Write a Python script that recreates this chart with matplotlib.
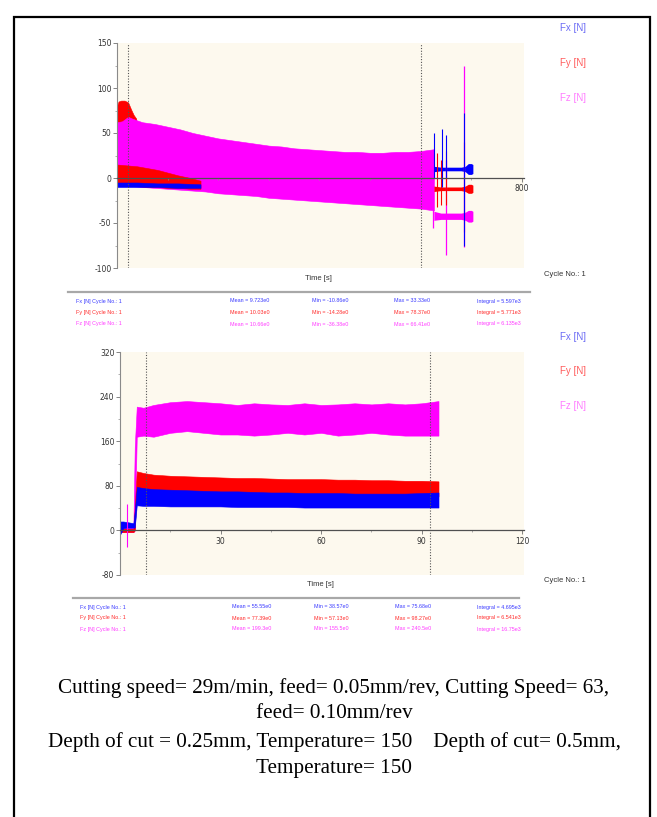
import matplotlib
matplotlib.use("Agg")
import matplotlib.pyplot as plt
from matplotlib.patches import Rectangle

plt.rcParams["axes.unicode_minus"] = False

W, H = 657, 817

# ---------------- top chart data (time in s, force in N) ----------------
top_t = [0, 10, 22, 30, 50, 75, 100, 125, 150, 175, 200, 225, 250, 275, 300,
         325, 350, 375, 400, 425, 450, 475, 500, 525, 550, 575, 600, 626]
top_fz_hi = [62, 63, 68, 66, 62, 60, 57, 54, 50, 47, 44, 42, 40, 38, 36,
             35, 33, 32, 31, 30, 29, 29, 28, 28, 29, 29, 30, 32]
top_fz_lo = [-5, -7, -8, -9, -10, -11, -12, -13, -14, -15, -17, -18, -19, -20, -22,
             -23, -24, -25, -26, -27, -28, -29, -30, -31, -32, -33, -34, -36]

# Fy start-up peak above the Fz band, and Fy near zero
fy_peak_t = [0, 3, 8, 15, 22, 28, 33, 38]
fy_peak_hi = [80, 85, 86, 86, 84, 76, 70, 66]
fy_base_t = [0, 20, 40, 60, 80, 100, 120, 145, 165]
fy_base_hi = [15, 14, 13, 11, 9, 6, 3, 0, -3]
fy_base_lo = [-8, -8, -9, -10, -10, -11, -11, -12, -12]
fx_base_t = [0, 40, 80, 120, 165]
fx_base_hi = [-5, -5, -6, -6, -7]
fx_base_lo = [-10, -10, -10, -11, -11]

# after the cut
tail_t = [626, 640, 660, 680, 688, 694, 700, 703]
tail_fx_hi = [13, 12, 12, 12, 13, 16, 16, 15]
tail_fx_lo = [7, 8, 8, 8, 7, 4, 4, 5]
tail_fy_hi = [-9, -10, -10, -10, -9, -7, -7, -8]
tail_fy_lo = [-15, -14, -14, -14, -15, -17, -17, -16]
tail_fz_hi = [-37, -39, -39, -39, -38, -36, -36, -37]
tail_fz_lo = [-47, -46, -46, -46, -47, -49, -49, -48]

spike_fz_t = [624, 650, 686]
spike_fz_lo = [-56, -86, -77]
spike_fz_hi = [30, 20, 125]
spike_fy_t = [632, 640, 650, 686]
spike_fy_lo = [-32, -30, -30, -60]
spike_fy_hi = [28, 20, 30, 40]
spike_fx_t = [626, 642, 650, 686]
spike_fx_lo = [0, -10, 0, -75]
spike_fx_hi = [50, 55, 48, 72]

top_marks = [22, 600]

# ---------------- bottom chart data ----------------
bot_t = [0, 1, 2, 3, 4, 4.4, 5, 7, 10, 15, 20, 25, 30, 35, 40, 45, 50,
         55, 60, 65, 70, 75, 80, 85, 90, 95]
bot_fz_hi = [10, 10, 12, 10, 10, 150, 222, 220, 225, 230, 232, 230, 228, 225, 228,
             226, 225, 228, 225, 226, 228, 226, 228, 226, 228, 232]
bot_fz_lo = [-3, -3, -3, -3, -3, 0, 168, 170, 168, 175, 178, 175, 172, 172, 170,
             172, 175, 172, 175, 170, 172, 175, 172, 170, 170, 170]
bot_fy_hi = [3, 3, 3, 3, 3, 40, 106, 103, 100, 98, 97, 96, 95, 94, 94,
             93, 92, 92, 92, 91, 91, 90, 90, 89, 89, 88]
bot_fy_lo = [-3, -3, -3, -3, -3, 0, 74, 74, 72, 70, 69, 68, 68, 67, 66,
             65, 65, 64, 64, 63, 63, 63, 62, 62, 62, 61]
bot_fx_hi = [16, 16, 15, 14, 13, 35, 78, 76, 74, 73, 72, 71, 70, 70, 69,
             68, 68, 67, 67, 67, 66, 66, 66, 66, 67, 68]
bot_fx_lo = [-8, 4, 5, 5, 5, 5, 45, 44, 44, 43, 43, 43, 43, 42, 42,
             42, 42, 41, 41, 41, 41, 41, 41, 41, 41, 41]
bot_spike_t = [2]
bot_spike_lo = [-29]
bot_spike_hi = [47]
bot_marks = [7.8, 92.5]

series_names = ["Fx [N]", "Fy [N]", "Fz [N]"]
stats_top = [["Mean = 9.723e0", "Min = -10.86e0", "Max = 33.33e0", "Integral = 5.597e3"],
             ["Mean = 10.03e0", "Min = -14.28e0", "Max = 78.37e0", "Integral = 5.771e3"],
             ["Mean = 10.66e0", "Min = -36.38e0", "Max = 66.41e0", "Integral = 6.135e3"]]
stats_bot = [["Mean = 55.55e0", "Min = 38.57e0", "Max = 75.68e0", "Integral = 4.695e3"],
             ["Mean = 77.39e0", "Min = 57.13e0", "Max = 98.27e0", "Integral = 6.541e3"],
             ["Mean = 199.3e0", "Min = 155.5e0", "Max = 240.5e0", "Integral = 16.75e3"]]

caption = ["Cutting speed= 29m/min, feed= 0.05mm/rev, Cutting Speed= 63,",
           "feed= 0.10mm/rev",
           "Depth of cut = 0.25mm, Temperature= 150    Depth of cut= 0.5mm,",
           "Temperature= 150"]

BLUE, RED, MAG = "#0000ff", "#ff0000", "#ff00ff"
LEG = ["#6b6bf5", "#ff5c5c", "#ff7cff"]
STAT = ["#3a3aff", "#ff2a2a", "#ff3cff"]
BG = "#fdf9ee"


def px_axes(fig, x0, y0, x1, y1):
    return fig.add_axes([x0 / W, 1 - y1 / H, (x1 - x0) / W, (y1 - y0) / H])


def ftext(fig, x, y, s, **kw):
    fig.text(x / W, 1 - y / H, s, **kw)


def style(ax):
    ax.set_facecolor(BG)
    for s in ["top", "right"]:
        ax.spines[s].set_visible(False)
    ax.spines["left"].set_color("#8a8a8a")
    ax.spines["bottom"].set_position(("data", 0))
    ax.spines["bottom"].set_color("#505050")
    ax.spines["bottom"].set_linewidth(0.9)
    ax.tick_params(axis="both", which="major", labelsize=5.5, labelcolor="#333333",
                   color="#707070", length=3, width=0.6, pad=1)
    ax.tick_params(axis="both", which="minor", color="#909090", length=1.5, width=0.5)
    ax.tick_params(axis="x", which="major", pad=1.5)


fig = plt.figure(figsize=(W / 100, H / 100), dpi=100)

# ---------- top chart ----------
ax = px_axes(fig, 117, 43, 524, 268)
style(ax)
ax.set_xlim(0, 804)
ax.set_ylim(-100, 150)
ax.set_yticks([-100, -50, 0, 50, 100, 150])
ax.set_yticks(range(-100, 151, 25), minor=True)
ax.set_xticks([800])
ax.set_xticks(range(100, 800, 100), minor=True)

ax.fill_between(fy_peak_t, 50, fy_peak_hi, color=RED, lw=0.4)
ax.fill_between(top_t, top_fz_lo, top_fz_hi, color=MAG, lw=0.4)
ax.fill_between(fy_base_t, fy_base_lo, fy_base_hi, color=RED, lw=0.4)
ax.fill_between(fx_base_t, fx_base_lo, fx_base_hi, color=BLUE, lw=0.4)
ax.vlines(spike_fz_t, spike_fz_lo, spike_fz_hi, color=MAG, lw=0.9)
ax.vlines(spike_fy_t, spike_fy_lo, spike_fy_hi, color=RED, lw=0.8)
ax.vlines(spike_fx_t, spike_fx_lo, spike_fx_hi, color=BLUE, lw=0.8)
ax.fill_between(tail_t, tail_fz_lo, tail_fz_hi, color=MAG, lw=0)
ax.fill_between(tail_t, tail_fy_lo, tail_fy_hi, color=RED, lw=0)
ax.fill_between(tail_t, tail_fx_lo, tail_fx_hi, color=BLUE, lw=0)
for m in top_marks:
    ax.axvline(m, color="#555555", lw=0.8, ls=(0, (1, 1.5)))

# ---------- bottom chart ----------
bx = px_axes(fig, 120, 352, 524, 575)
style(bx)
bx.set_xlim(0, 120.5)
bx.set_ylim(-80, 320)
bx.set_yticks([-80, 0, 80, 160, 240, 320])
bx.set_yticks(range(-80, 321, 40), minor=True)
bx.set_xticks([30, 60, 90, 120])
bx.set_xticks([15, 45, 75, 105], minor=True)

bx.fill_between(bot_t, bot_fz_lo, bot_fz_hi, color=MAG, lw=0.4)
bx.vlines(bot_spike_t, bot_spike_lo, bot_spike_hi, color=MAG, lw=0.8)
bx.fill_between(bot_t, bot_fy_lo, bot_fy_hi, color=RED, lw=0.4)
bx.fill_between(bot_t, bot_fx_lo, bot_fx_hi, color=BLUE, lw=0.4)
for m in bot_marks:
    bx.axvline(m, color="#555555", lw=0.8, ls=(0, (1, 1.5)))

# ---------- labels around the charts ----------
small = dict(fontsize=5.5, color="#333333", family="Liberation Sans", ha="center", va="center")
ftext(fig, 318, 279, "Time [s]", **small)
ftext(fig, 320, 584, "Time [s]", **small)
ftext(fig, 565, 275, "Cycle No.: 1", **small)
ftext(fig, 565, 581, "Cycle No.: 1", **small)

for i, name in enumerate(series_names):
    ftext(fig, 573, 28 + 35 * i, name, fontsize=7, color=LEG[i],
          family="Liberation Sans", ha="center", va="center")
    ftext(fig, 573, 337 + 34.5 * i, name, fontsize=7, color=LEG[i],
          family="Liberation Sans", ha="center", va="center")

# stats tables
fig.add_artist(plt.Line2D([68 / W, 530 / W], [1 - 292 / H, 1 - 292 / H], color="#a8a8a8", lw=1.6))
fig.add_artist(plt.Line2D([73 / W, 519 / W], [1 - 598 / H, 1 - 598 / H], color="#a8a8a8", lw=1.6))
tiny = dict(fontsize=3.9, family="Liberation Sans", va="center", ha="left")
for i, name in enumerate(series_names):
    ftext(fig, 76, 301 + 11.5 * i, name + " Cycle No.: 1", color=STAT[i], **tiny)
    for x, s in zip([230, 312, 394, 477], stats_top[i]):
        ftext(fig, x, 301 + 11.5 * i, s, color=STAT[i], **tiny)
    ftext(fig, 80, 607 + 11 * i, name + " Cycle No.: 1", color=STAT[i], **tiny)
    for x, s in zip([232, 314, 395, 477], stats_bot[i]):
        ftext(fig, x, 607 + 11 * i, s, color=STAT[i], **tiny)

# caption
for y, line in zip([688, 713, 742, 768], caption):
    ftext(fig, 334, y, line, fontsize=15.2, family="Liberation Serif",
          ha="center", va="center", color="black")

# page frame
fig.add_artist(Rectangle((14 / W, -0.01), (650 - 14) / W, 1 - 17 / H + 0.01,
                         fill=False, ec="black", lw=1.6, transform=fig.transFigure))

fig.savefig("out.png", dpi=100)
